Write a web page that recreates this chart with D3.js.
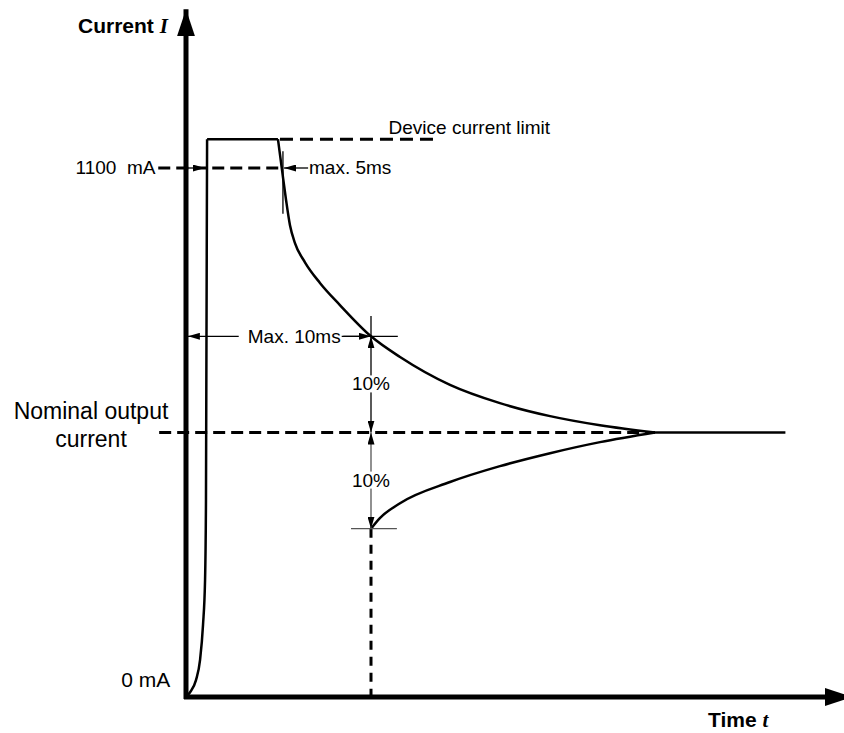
<!DOCTYPE html>
<html>
<head>
<meta charset="utf-8">
<script src="https://cdn.jsdelivr.net/npm/d3@7"></script>
<style>
  body { margin: 0; background: #fff; }
  svg { display: block; font-family: Arial, "Liberation Sans", sans-serif; }
</style>
</head>
<body>
<svg id="chart" width="844" height="733"></svg>
<script>
// Current trace pieces (time in ms, current in mA)
const riseT = [0, 0.22, 0.54, 0.76, 0.92, 1.03, 1.08, 1.14];
const riseI = [0, 10, 35, 77, 150, 243, 410, 1160];
const decayT = [4.97, 5.19, 5.41, 5.62, 5.89, 6.43, 7.24, 8.32, 10, 11.57, 14.27, 16.97, 19.68, 22.38, 25.35];
const decayI = [1160, 1096, 1033, 981, 944, 904, 861, 815, 750, 707, 649, 611, 584, 565, 550];
const recoverT = [10, 10.48, 11.57, 14.27, 16.97, 19.68, 22.38, 25.35];
const recoverI = [350, 372, 403, 447, 480, 507, 530, 550];
const tailEnd = 32.4;

// Levels
const limitI = 1160;
const ratedI = 1100;
const nominalI = 550;
const bandHi = 750;
const bandLo = 350;

// Times
const limitDashEnd = 13.45;
const fiveMsMark = 5.24;
const tenMs = 10;

// Scales
const x = d3.scaleLinear().domain([0, 36]).range([186, 852]);
const y = d3.scaleLinear().domain([0, 1430]).range([697, 9.3]);

const svg = d3.select('#chart');

// Arrow markers
const defs = svg.append('defs');
const marker = (id, w, h) => defs.append('marker')
  .attr('id', id)
  .attr('viewBox', `0 0 ${w} ${h}`)
  .attr('refX', w).attr('refY', h / 2)
  .attr('markerWidth', w).attr('markerHeight', h)
  .attr('markerUnits', 'userSpaceOnUse')
  .attr('orient', 'auto-start-reverse')
  .append('path')
    .attr('d', `M0,0L${w},${h / 2}L0,${h}Z`)
    .attr('fill', '#000');
marker('big', 27, 18);
marker('small', 12, 7);

const line = d3.line().x(d => x(d[0])).y(d => y(d[1]));
const seg = (pts) => line.curve(d3.curveLinear)(pts);

// Axes
svg.append('line')
  .attr('x1', x(0)).attr('y1', y(0) + 2)
  .attr('x2', x(0)).attr('y2', y(1430))
  .attr('stroke', '#000').attr('stroke-width', 5)
  .attr('marker-end', 'url(#big)');
svg.append('line')
  .attr('x1', x(0) - 2).attr('y1', y(0))
  .attr('x2', x(36)).attr('y2', y(0))
  .attr('stroke', '#000').attr('stroke-width', 5)
  .attr('marker-end', 'url(#big)');

// Dashed reference lines
const dashed = (pts, w, dash) => svg.append('path')
  .attr('d', seg(pts))
  .attr('fill', 'none').attr('stroke', '#000')
  .attr('stroke-width', w).attr('stroke-dasharray', dash);

dashed([[-1.5, ratedI], [4.99, ratedI]], 3, '12,6');
dashed([[5.08, limitI], [limitDashEnd, limitI]], 3, '13,7');
dashed([[-1.45, nominalI], [decayT[decayT.length - 1], nominalI]], 3, '12,6');
dashed([[tenMs, bandLo], [tenMs, 0]], 3, '9,7');

// Trace
const trace = (pts, curve) => svg.append('path')
  .attr('d', line.curve(curve)(pts))
  .attr('fill', 'none').attr('stroke', '#000')
  .attr('stroke-width', 2.5).attr('stroke-linejoin', 'round');

trace(riseT.map((t, i) => [t, riseI[i]]), d3.curveMonotoneX);
trace([[riseT[riseT.length - 1], limitI], [decayT[0], limitI]], d3.curveLinear);
trace(decayT.map((t, i) => [t, decayI[i]]), d3.curveMonotoneX);
trace(recoverT.map((t, i) => [t, recoverI[i]]), d3.curveMonotoneX);
trace([[decayT[decayT.length - 1], nominalI], [tailEnd, nominalI]], d3.curveLinear);

// Thin ticks and crosshairs
const thin = (pts, col) => svg.append('path')
  .attr('d', seg(pts))
  .attr('fill', 'none').attr('stroke', col || '#000').attr('stroke-width', 1.3);

thin([[fiveMsMark, limitI - 25], [fiveMsMark, limitI - 155]]);
thin([[tenMs - 1.5, bandHi], [tenMs + 1.45, bandHi]]);
thin([[tenMs, bandHi], [tenMs, bandHi + 42]]);
thin([[tenMs - 1.08, bandLo], [tenMs + 1.4, bandLo]], '#555');

// Arrows
const arrow = (pts, start, col) => {
  const p = svg.append('path')
    .attr('d', seg(pts))
    .attr('fill', 'none').attr('stroke', col || '#000').attr('stroke-width', 1.3)
    .attr('marker-end', 'url(#small)');
  if (start) p.attr('marker-start', 'url(#small)');
  return p;
};

arrow([[0.1, ratedI], [1.02, ratedI]]);
arrow([[6.6, ratedI], [5.3, ratedI]]);
arrow([[3.4, bandHi], [tenMs, bandHi]]);
arrow([[2.85, bandHi], [0.1, bandHi]]);
arrow([[tenMs, nominalI], [tenMs, bandHi]], true);
arrow([[tenMs, nominalI], [tenMs, bandLo]], true, '#555');

// Labels
const label = (txt, px, py, size, anchor, weight) => svg.append('text')
  .attr('x', px).attr('y', py)
  .attr('font-size', size)
  .attr('text-anchor', anchor || 'start')
  .attr('font-weight', weight || 'normal')
  .style('white-space', 'pre')
  .text(txt);

// Text sitting on a line gets a white box behind it
const halo = (txt, px, py, size) => {
  const t = label(txt, px, py, size, 'middle');
  const b = t.node().getBBox();
  svg.insert('rect', () => t.node())
    .attr('x', b.x - 1).attr('y', b.y + 2)
    .attr('width', b.width + 2).attr('height', b.height - 4)
    .attr('fill', '#fff');
};

label('1100  mA', x(-1.65), y(ratedI) + 6, 19, 'end');
label('0 mA', x(-0.85), y(0) - 10, 21, 'end');
label('Device current limit', x(10.95), y(limitI) - 5, 19);
label('max. 5ms', x(6.65), y(ratedI) + 6, 19);
halo('Max. 10ms', x(5.85), y(bandHi) + 7, 19);
halo('10%', x(tenMs), y(650) + 6, 19);
halo('10%', x(tenMs), y(450) + 6, 19);
label('Nominal output', 91, y(nominalI) - 14, 23, 'middle');
label('current', 91, y(nominalI) + 14, 23, 'middle');

const cur = label('Current ', 78, 33, 21, 'start', 'bold');
cur.append('tspan')
  .attr('font-family', '"Liberation Serif", "DejaVu Serif", serif')
  .attr('font-style', 'italic')
  .text('I');

const tm = label('Time ', 708, 727, 21, 'start', 'bold');
tm.append('tspan')
  .attr('font-family', '"Liberation Serif", "DejaVu Serif", serif')
  .attr('font-style', 'italic')
  .text('t');
</script>
</body>
</html>
